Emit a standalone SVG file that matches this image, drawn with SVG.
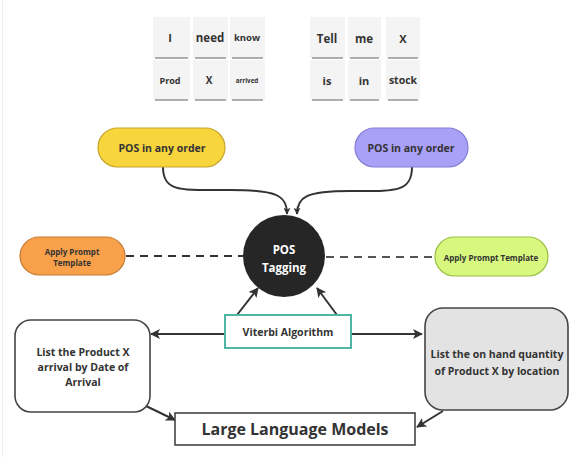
<svg xmlns="http://www.w3.org/2000/svg" width="569" height="457" viewBox="0 0 569 457">
<style>
  text { font-family: "Open Sans", "Noto Sans", "Liberation Sans", sans-serif; font-weight: 700; fill: #333; text-anchor: middle; dominant-baseline: central; }
  .tile { fill: #f4f4f4; }
  .tshadow { fill: #707070; opacity: 0.55; }
  .conn { fill: none; stroke: #333; stroke-width: 2; }
  .dash { fill: none; stroke: #333; stroke-width: 2; stroke-dasharray: 8 6; }
  .t105 { font-size: 10.5px; }
  .t8 { font-size: 8px; }
</style>
<defs>
  <marker id="arr" viewBox="0 0 10 10" refX="9" refY="5" markerWidth="7" markerHeight="7" orient="auto" markerUnits="userSpaceOnUse">
    <path d="M0,0 L10,5 L0,10 L2.5,5 z" fill="#333"/>
  </marker>
  <marker id="arrB" viewBox="0 0 10 10" refX="9" refY="5" markerWidth="10" markerHeight="10" orient="auto" markerUnits="userSpaceOnUse">
    <path d="M0,0 L10,5 L0,10 L2.5,5 z" fill="#333"/>
  </marker>
</defs>
<rect width="569" height="457" fill="#ffffff"/>
<line x1="2.5" y1="0" x2="2.5" y2="457" stroke="#ececec" stroke-width="1"/>

<g id="tiles-left">
  <rect class="tile" x="153" y="17" width="37" height="41"/><rect class="tshadow" x="155" y="57" width="33" height="2"/>
  <rect class="tile" x="193" y="17" width="35" height="41"/><rect class="tshadow" x="195" y="57" width="31" height="2"/>
  <rect class="tile" x="230" y="17" width="35" height="41"/><rect class="tshadow" x="232" y="57" width="31" height="2"/>
  <rect class="tile" x="153" y="60" width="37" height="40"/><rect class="tshadow" x="155" y="99" width="33" height="2"/>
  <rect class="tile" x="193" y="60" width="35" height="40"/><rect class="tshadow" x="195" y="99" width="31" height="2"/>
  <rect class="tile" x="230" y="60" width="35" height="40"/><rect class="tshadow" x="232" y="99" width="31" height="2"/>
  <text x="170" y="37" font-size="11">I</text>
  <text x="210" y="37" font-size="11.5">need</text>
  <text x="247" y="37" font-size="9.5">know</text>
  <text x="170" y="80" font-size="9">Prod</text>
  <text x="209" y="80" font-size="10">X</text>
  <text x="247" y="80" font-size="6.3">arrived</text>
</g>

<g id="tiles-right">
  <rect class="tile" x="310" y="17" width="35" height="41"/><rect class="tshadow" x="312" y="57" width="31" height="2"/>
  <rect class="tile" x="348" y="17" width="33" height="41"/><rect class="tshadow" x="350" y="57" width="29" height="2"/>
  <rect class="tile" x="386" y="17" width="34" height="41"/><rect class="tshadow" x="388" y="57" width="30" height="2"/>
  <rect class="tile" x="310" y="60" width="35" height="40"/><rect class="tshadow" x="312" y="99" width="31" height="2"/>
  <rect class="tile" x="348" y="60" width="33" height="40"/><rect class="tshadow" x="350" y="99" width="29" height="2"/>
  <rect class="tile" x="386" y="60" width="34" height="40"/><rect class="tshadow" x="388" y="99" width="30" height="2"/>
  <text x="327" y="38" font-size="11.5">Tell</text>
  <text x="364" y="38" font-size="11.5">me</text>
  <text x="403" y="38" font-size="11">X</text>
  <text x="327" y="80" font-size="11">is</text>
  <text x="364" y="80" font-size="11">in</text>
  <text x="403" y="80" font-size="10.5">stock</text>
</g>

<g id="connectors">
  <path class="conn" d="M163,167 C163,193 182,190 230,190 C276,190 287,195 287,214" marker-end="url(#arr)"/>
  <path class="conn" d="M412,167 C412,193 394,191 350,191 C306,191 297,197 297,214" marker-end="url(#arr)"/>
  <line class="dash" x1="126" y1="256" x2="243" y2="256"/>
  <line class="dash" x1="326" y1="257" x2="435" y2="257" stroke-width="1.6" stroke-dasharray="6 5" style="stroke:#555"/>
  <line class="conn" x1="237" y1="315" x2="258" y2="288" marker-end="url(#arrB)"/>
  <line class="conn" x1="337" y1="315" x2="317" y2="288" marker-end="url(#arrB)"/>
  <line class="conn" x1="225" y1="334" x2="151" y2="334" marker-end="url(#arrB)"/>
  <line class="conn" x1="351" y1="334" x2="422" y2="334" marker-end="url(#arrB)"/>
  <line class="conn" x1="146" y1="406" x2="175" y2="420" marker-end="url(#arrB)"/>
  <line class="conn" x1="443" y1="411" x2="417" y2="427" marker-end="url(#arrB)"/>
</g>

<g id="pos-yellow">
  <rect x="98" y="128" width="127" height="39" rx="19.5" fill="#f8d53c" stroke="#c7a52a" stroke-width="1.2"/>
  <text class="t105" x="162" y="148">POS in any order</text>
</g>
<g id="pos-purple">
  <rect x="355" y="128" width="113" height="39" rx="19.5" fill="#a9a0f7" stroke="#857cd6" stroke-width="1.2"/>
  <text class="t105" x="411" y="148">POS in any order</text>
</g>
<g id="prompt-orange">
  <rect x="20" y="237" width="105" height="38" rx="19" fill="#f8a04a" stroke="#c47b30" stroke-width="1.2"/>
  <text class="t8" x="72" y="251">Apply Prompt</text>
  <text class="t8" x="72" y="262">Template</text>
</g>
<g id="prompt-green">
  <rect x="435" y="237" width="113" height="39" rx="19.5" fill="#d7f77e" stroke="#9dbf45" stroke-width="1.2"/>
  <text class="t8" x="491" y="257">Apply Prompt Template</text>
</g>
<g id="pos-tagging">
  <circle cx="284" cy="256" r="41" fill="#262626"/>
  <text x="284" y="249" font-size="11.5" style="fill:#fff">POS</text>
  <text x="284" y="267" font-size="11.5" style="fill:#fff">Tagging</text>
</g>
<g id="viterbi">
  <rect x="225" y="315" width="126" height="33" fill="#fff" stroke="#4db6a2" stroke-width="2"/>
  <text class="t105" x="288" y="332">Viterbi Algorithm</text>
</g>
<g id="list-arrival">
  <rect x="15" y="320" width="135" height="92" rx="16" fill="#fff" stroke="#444" stroke-width="1.6"/>
  <text class="t105" x="83" y="352">List the Product X</text>
  <text class="t105" x="83" y="367">arrival by Date of</text>
  <text class="t105" x="83" y="382">Arrival</text>
</g>
<g id="list-quantity">
  <rect x="425" y="308" width="143" height="102" rx="18" fill="#e3e3e3" stroke="#444" stroke-width="1.6"/>
  <text class="t105" x="497" y="354">List the on hand quantity</text>
  <text class="t105" x="497" y="371">of Product X by location</text>
</g>
<g id="llm">
  <rect x="175" y="413" width="240" height="32" fill="#fff" stroke="#444" stroke-width="1.6"/>
  <text x="295" y="429" font-size="16">Large Language Models</text>
</g>
</svg>
